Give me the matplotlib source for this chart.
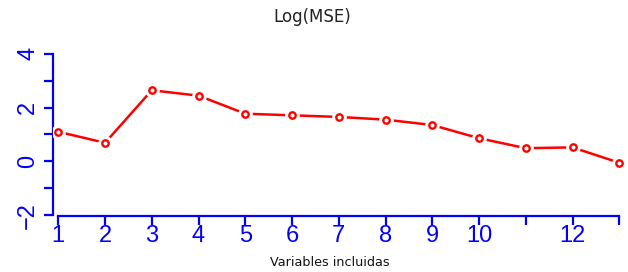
import matplotlib
matplotlib.use("Agg")
import matplotlib.pyplot as plt

# Log(MSE) por numero de variables incluidas
n_vars = [1, 2, 3, 4, 5, 6, 7, 8, 9, 10, 11, 12, 13]
log_mse = [1.10, 0.69, 2.64, 2.44, 1.77, 1.71, 1.65, 1.55, 1.35, 0.86, 0.49, 0.52, -0.05]

x_ticks = [1, 2, 3, 4, 5, 6, 7, 8, 9, 10, 11, 12, 13]
x_labels = ['1', '2', '3', '4', '5', '6', '7', '8', '9', '10', '', '12', '']
y_ticks = [-2, -1, 0, 1, 2, 3, 4]
y_labels = ['\u22122', '', '0', '', '2', '', '4']

blue = '#0000ff'
red = '#ff0000'

fig = plt.figure(figsize=(6.28, 2.72), dpi=100)
ax = fig.add_axes([0.0839, 0.2059, 0.9161, 0.647])

# linea + hueco alrededor de los puntos (estilo type="b" de R)
ax.plot(n_vars, log_mse, color=red, lw=1.8, zorder=2)
ax.plot(n_vars, log_mse, 'o', ms=9.5, color='white', mec='white', zorder=3)
ax.plot(n_vars, log_mse, 'o', ms=4.6, mfc='white', mec=red, mew=1.7, zorder=4)

ax.set_xlim(0.88, 13.186)
ax.set_ylim(-2.026, 4.505)

for s in ['top', 'right']:
    ax.spines[s].set_visible(False)
for s in ['left', 'bottom']:
    ax.spines[s].set_color(blue)
    ax.spines[s].set_linewidth(1.6)
ax.spines['bottom'].set_bounds(1, 13)
ax.spines['left'].set_bounds(-2, 4)

ax.set_xticks(x_ticks)
ax.set_xticklabels(x_labels, fontfamily='Liberation Sans', fontsize=17, color=blue)
ax.set_yticks(y_ticks)
ax.set_yticklabels(y_labels, fontfamily='Liberation Sans', fontsize=17, color=blue,
                   rotation=90, va='center')
ax.tick_params(axis='x', length=6.3, width=1.6, color=blue, pad=0.5)
ax.tick_params(axis='y', length=6.3, width=1.6, color=blue, pad=3.5)

fig.text(0.498, 0.937, 'Log(MSE)', ha='center', va='center', fontsize=12, color='#222222')
fig.text(0.525, 0.035, 'Variables incluidas', ha='center', va='center', fontsize=9.2,
         color='#111111')

fig.savefig('out.png', dpi=100)
